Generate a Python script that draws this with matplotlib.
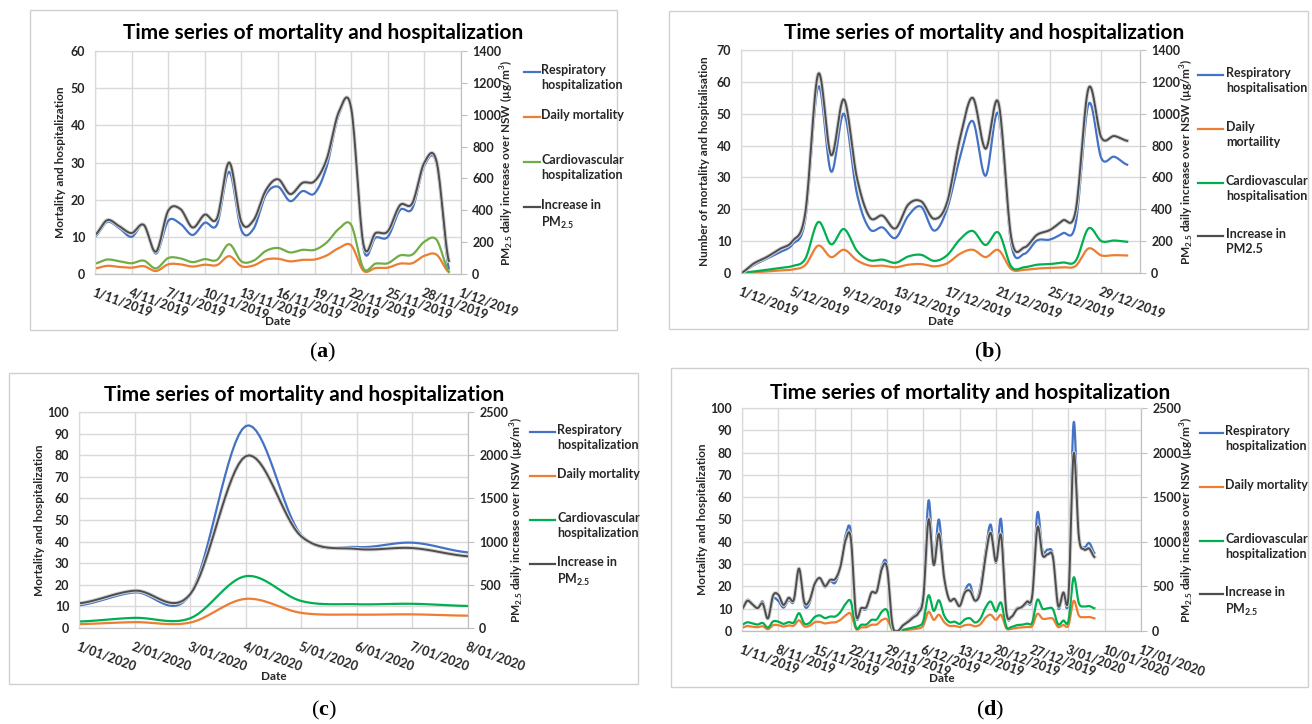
import numpy as np
import matplotlib.pyplot as plt
import matplotlib.patheffects as pe
from matplotlib.lines import Line2D
from matplotlib.patches import Rectangle

plt.rcParams['font.family'] = ['Lato', 'DejaVu Sans']
plt.rcParams['mathtext.fontset'] = 'custom'
plt.rcParams['mathtext.rm'] = 'Liberation Serif'
plt.rcParams['mathtext.bf'] = 'Liberation Serif:bold'

# daily values, 1/11/2019 - 30/11/2019
resp_nov = [10, 14, 12.3, 10, 13.2, 5.5, 14.3, 13.5, 10.5, 13.8, 13.3, 27.5, 11.8, 12.2, 21.3,
            23.5, 19.6, 22.3, 21.7, 29, 43, 44.5, 7, 9.8, 10, 17.2, 17.6, 29.2, 29.5, 1.5]
mort_nov = [1.5, 2.2, 1.9, 1.7, 2.1, 0.8, 2.6, 2.6, 2.0, 2.5, 2.4, 4.8, 2.1, 2.3, 3.9,
            4.1, 3.4, 3.8, 3.9, 5.0, 7.0, 7.7, 0.9, 1.6, 1.7, 2.8, 2.9, 4.9, 5.2, 0.5]
cardio_nov = [2.8, 3.9, 3.4, 2.9, 3.6, 1.5, 4.3, 4.2, 3.2, 4.0, 3.8, 8.0, 3.4, 3.6, 6.2,
              7.0, 5.8, 6.5, 6.5, 8.5, 12.2, 13.2, 1.5, 2.8, 2.9, 5.0, 5.2, 8.7, 9.2, 0.7]
pm_nov = [245, 338, 299, 257, 308, 140, 397, 408, 292, 373, 350, 700, 327, 338, 525,
          595, 502, 572, 583, 723, 1020, 1040, 187, 257, 268, 432, 443, 700, 705, 82]

# 1/12/2019 - 31/12/2019
resp_dec = [0, 2.5, 4.5, 6.5, 9, 17, 58.5, 31.8, 50, 25, 13.8, 14.3, 11, 18, 20.8, 13.3,
            20, 36, 47.7, 30.5, 50, 9, 6, 10.2, 10.5, 12.5, 15.5, 53, 36, 36.5, 34]
mort_dec = [0, 0.2, 0.5, 0.8, 1.1, 2.5, 8.6, 5, 7.3, 4, 2.3, 2.3, 1.8, 2.6, 2.8, 2.1,
            3, 6, 7.3, 5, 7.2, 1.2, 1, 1.4, 1.6, 1.8, 2.2, 7.7, 5.5, 5.6, 5.5]
cardio_dec = [0, 0.5, 1.0, 1.6, 2.2, 4.5, 16, 9, 13.8, 7, 4, 4.2, 3.2, 5.2, 5.7, 3.8,
              5.5, 10.5, 13.2, 8.8, 12.7, 2, 1.8, 2.6, 2.8, 3.3, 3.8, 14, 10, 10.2, 9.8]
pm_dec = [0, 60, 100, 150, 200, 380, 1250, 740, 1090, 600, 350, 360, 280, 430, 450, 340,
          440, 840, 1100, 780, 1070, 220, 160, 240, 270, 330, 390, 1160, 850, 860, 830]

# 1/01/2020 - 8/01/2020
resp_jan = [10.5, 16.5, 15.5, 93.5, 43, 37.5, 39.5, 35]
mort_jan = [1.8, 2.7, 2.5, 13.5, 7, 6.2, 6.3, 5.7]
cardio_jan = [3, 4.7, 4.5, 24, 12.5, 11, 11.2, 10.2]
pm_jan = [285, 432, 390, 1988, 1060, 915, 925, 830]

ticks_a = ['1/11/2019', '4/11/2019', '7/11/2019', '10/11/2019', '13/11/2019', '16/11/2019',
           '19/11/2019', '22/11/2019', '25/11/2019', '28/11/2019', '1/12/2019']
ticks_b = ['1/12/2019', '5/12/2019', '9/12/2019', '13/12/2019', '17/12/2019', '21/12/2019',
           '25/12/2019', '29/12/2019']
ticks_c = ['1/01/2020', '2/01/2020', '3/01/2020', '4/01/2020', '5/01/2020', '6/01/2020',
           '7/01/2020', '8/01/2020']
ticks_d = ['1/11/2019', '8/11/2019', '15/11/2019', '22/11/2019', '29/11/2019', '6/12/2019',
           '13/12/2019', '20/12/2019', '27/12/2019', '3/01/2020', '10/01/2020', '17/01/2020']

pm_sub = r'PM$_{\mathregular{2.5}}$'
legend_us = ['Respiratory\nhospitalization', 'Daily mortality',
             'Cardiovascular\nhospitalization', 'Increase in\n' + pm_sub]
legend_uk = ['Respiratory\nhospitalisation', 'Daily\nmortaility',
             'Cardiovascular\nhospitalisation', 'Increase in\nPM2.5']

W, H = 1312, 724
def fx(px): return px / W
def fy(py): return 1 - py / H

def smooth(y, n=16):
    # Catmull-Rom, like Excel's smoothed line
    y = np.asarray(y, float)
    p = np.concatenate([[y[0]], y, [y[-1]]])
    xs, ys = [], []
    t = np.linspace(0, 1, n, endpoint=False)
    for i in range(len(y) - 1):
        p0, p1, p2, p3 = p[i], p[i + 1], p[i + 2], p[i + 3]
        m1, m2 = (p2 - p0) / 2, (p3 - p1) / 2
        h00 = 2 * t**3 - 3 * t**2 + 1
        h10 = t**3 - 2 * t**2 + t
        h01 = -2 * t**3 + 3 * t**2
        h11 = t**3 - t**2
        xs.append(i + t)
        ys.append(h00 * p1 + h10 * m1 + h01 * p2 + h11 * m2)
    xs.append([len(y) - 1]); ys.append([y[-1]])
    return np.concatenate(xs), np.concatenate(ys)

resp_all = resp_nov + resp_dec + resp_jan
mort_all = mort_nov + mort_dec + mort_jan
cardio_all = cardio_nov + cardio_dec + cardio_jan
pm_all = pm_nov + pm_dec + pm_jan

panels = [
    dict(tag='a', box=(30, 10, 617, 330), ax=(95, 51, 461, 274),
         data=(resp_nov, mort_nov, cardio_nov, pm_nov), green='#70AD47',
         ticks=ticks_a, step=3, xmax=30, ymax=60, ystep=10, rmax=1400, rstep=200,
         ylabel='Mortality and hospitalization', ylx=61, rlx=507,
         title=(323, 33), leg=(524, 540, 541, [72, 117, 162, 207]), legend=legend_us,
         date_y=322, lab=(323, 352)),
    dict(tag='b', box=(669, 11, 1308, 329), ax=(741, 50, 1140, 273),
         data=(resp_dec, mort_dec, cardio_dec, pm_dec), green='#00B050',
         ticks=ticks_b, step=4, xmax=31, ymax=70, ystep=10, rmax=1400, rstep=200,
         ylabel='Number of mortality and hospitalisation', ylx=705, rlx=1187,
         title=(984, 33), leg=(1198, 1223, 1226, [75, 129, 183, 236]), legend=legend_uk,
         date_y=321, lab=(988, 352)),
    dict(tag='c', box=(9, 373, 638, 684), ax=(79, 412, 468, 628),
         data=(resp_jan, mort_jan, cardio_jan, pm_jan), green='#00B050',
         ticks=ticks_c, step=1, xmax=7, ymax=100, ystep=10, rmax=2500, rstep=500,
         ylabel='Mortality and hospitalization', ylx=40, rlx=517,
         title=(304, 395), leg=(530, 555, 557, [432, 476, 520, 564]), legend=legend_us,
         date_y=676, lab=(324, 710)),
    dict(tag='d', box=(671, 368, 1308, 687), ax=(742, 408, 1141, 631),
         data=(resp_all, mort_all, cardio_all, pm_all), green='#00B050',
         ticks=ticks_d, step=7, xmax=77, ymax=100, ystep=10, rmax=2500, rstep=500,
         ylabel='Mortality and hospitalization', ylx=703, rlx=1187,
         title=(970, 393), leg=(1200, 1223, 1225, [433, 487, 541, 594]), legend=legend_us,
         date_y=678, lab=(990, 710)),
]

fig = plt.figure(figsize=(W / 100, H / 100), dpi=100)
grid_c = '#d9d9d9'
txt_c = '#262626'

for p in panels:
    x0, y0, x1, y1 = p['box']
    fig.add_artist(Rectangle((fx(x0), fy(y1)), fx(x1 - x0), (y1 - y0) / H,
                             transform=fig.transFigure, fill=False, ec='#d0d0d0', lw=1))
    l, t, r, b = p['ax']
    ax = fig.add_axes([fx(l), fy(b), fx(r - l), (b - t) / H])
    ax2 = ax.twinx()
    resp, mort, cardio, pm = p['data']
    green = p['green']

    xs, ys = smooth(resp); ax.plot(xs, ys, color='#4472C4', lw=1.6, zorder=3)
    xs, ys = smooth(mort); ax.plot(xs, ys, color='#ED7D31', lw=1.6, zorder=3)
    xs, ys = smooth(cardio); ax.plot(xs, ys, color=green, lw=1.6, zorder=3)
    xs, ys = smooth(pm)
    ax2.plot(xs, ys, color='#4d4d4d', lw=1.4,
             path_effects=[pe.Stroke(linewidth=2.8, foreground='#d2d2d2'), pe.Normal()])

    ax.set_xlim(0, p['xmax'])
    ax.set_ylim(0, p['ymax'])
    ax2.set_ylim(0, p['rmax'])
    ax.set_xticks(np.arange(len(p['ticks'])) * p['step'])
    ax.set_xticklabels(p['ticks'], rotation=-20, ha='left', va='top',
                       rotation_mode='anchor', fontsize=8.5, fontweight='bold', color=txt_c)
    ax.set_yticks(np.arange(0, p['ymax'] + 1, p['ystep']))
    ax2.set_yticks(np.arange(0, p['rmax'] + 1, p['rstep']))
    ax.tick_params(axis='both', length=0, labelsize=9, labelcolor=txt_c)
    ax.tick_params(axis='y', pad=7)
    ax.tick_params(axis='x', pad=9)
    ax2.tick_params(axis='y', length=4, color='#bfbfbf', labelsize=9, labelcolor=txt_c, pad=4)
    for lab in ax.get_yticklabels() + ax2.get_yticklabels():
        lab.set_fontweight('bold')
    ax.grid(True, color=grid_c, lw=1)
    ax.set_axisbelow(True)
    for a in (ax, ax2):
        for s in a.spines.values():
            s.set_color(grid_c)
        a.spines['bottom'].set_color('#bfbfbf')
    ax2.spines['right'].set_color('#bfbfbf')

    fig.text(fx(p['title'][0]), fy(p['title'][1]), 'Time series of mortality and hospitalization',
             ha='center', va='center', fontsize=15, fontweight='bold', color='black')
    fig.text(fx(p['ylx']), fy((t + b) / 2), p['ylabel'], rotation=90, ha='center', va='center',
             fontsize=8.5, fontweight='bold', color=txt_c)
    fig.text(fx(p['rlx']), fy((t + b) / 2), pm_sub + r' daily increase over NSW (µg/m$^{\mathregular{3}}$)',
             rotation=90, ha='center', va='center', fontsize=8.5, fontweight='bold', color=txt_c)
    fig.text(fx((l + r) / 2), fy(p['date_y']), 'Date', ha='center', va='center',
             fontsize=8.5, fontweight='bold', color=txt_c)

    lx0, lx1, tx, ly = p['leg']
    for c, yy, name in zip(['#4472C4', '#ED7D31', green, '#4d4d4d'], ly, p['legend']):
        fig.add_artist(Line2D([fx(lx0), fx(lx1)], [fy(yy), fy(yy)], transform=fig.transFigure,
                              color=c, lw=1.6))
        fig.text(fx(tx), fy(yy - 8), name, ha='left', va='top', fontsize=9,
                 fontweight='bold', color=txt_c, linespacing=1.3)

    lx, lyy = p['lab']
    fig.text(fx(lx), fy(lyy), r'($\mathbf{%s}$)' % p['tag'], ha='center', va='center',
             fontsize=16, family='Liberation Serif')

fig.savefig('out.png', dpi=100)
